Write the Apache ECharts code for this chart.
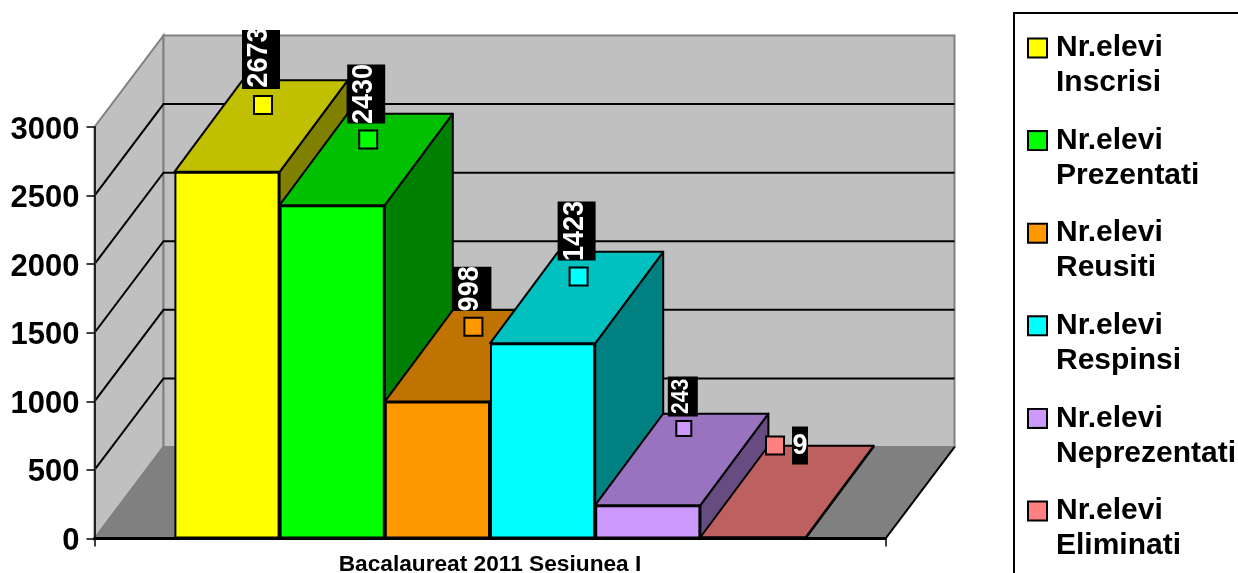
<!DOCTYPE html>
<html><head><meta charset="utf-8">
<style>html,body{margin:0;padding:0;background:#fff;overflow:hidden}#c{width:1238px;height:573px}</style>
<script src="https://cdn.jsdelivr.net/npm/echarts@6/dist/echarts.min.js"></script>
</head><body><div id="c"></div>
<script>
const categories = ['Bacalaureat 2011 Sesiunea I'];
const seriesNames = ['Nr.elevi Inscrisi','Nr.elevi Prezentati','Nr.elevi Reusiti','Nr.elevi Respinsi','Nr.elevi Neprezentati','Nr.elevi Eliminati'];
const inscrisi = [2673];
const prezentati = [2430];
const reusiti = [998];
const respinsi = [1423];
const neprezentati = [243];
const eliminati = [9];
const seriesValues = [inscrisi, prezentati, reusiti, respinsi, neprezentati, eliminati];
const yTicks = [0,500,1000,1500,2000,2500,3000];

const frontColors = ['#FFFF00','#00FF00','#FF9900','#00FFFF','#CC99FF','#FF8080'];
const topColors   = ['#C0C000','#00C000','#C07300','#00C0C0','#9973BF','#BF6060'];
const sideColors  = ['#808000','#008000','#804C00','#008080','#664C80','#804040'];
const FONT = '"Liberation Sans", Arial, sans-serif';
const WALL_DX = 69, WALL_DY = 91.5, BAR_DX = 68, BAR_DY = 91.5, BAR_W = 105.2;
// data label layout, relative to the centre of each bar's top face
const labelLayout = [
  {mx:2, my:-21, ms:18, bx:-19, by:-96, bw:38, bh:59, tx:-2, ty:-2, fs:27, rot:true},
  {mx:2, my:-20, ms:18, bx:-19, by:-95, bw:38, bh:59, tx:-2, ty:0, fs:27, rot:true},
  {mx:2, my:-29, ms:18, bx:-19, by:-89, bw:39, bh:44, tx:-2, ty:0, fs:27, rot:true},
  {mx:2, my:-21, ms:18, bx:-19, by:-96, bw:38, bh:59, tx:-2, ty:0, fs:27, rot:true},
  {mx:2, my:-31, ms:15, bx:-14, by:-83, bw:30, bh:40, tx:-1, ty:0, fs:21, rot:true},
  {mx:-12, my:-46, ms:18, bx:5, by:-65, bw:16, bh:38, tx:0, ty:0, fs:27, rot:false}
];

function barLeft(api, i){
  const c = api.coord([api.value(0), 0])[0];
  return c + (i - seriesNames.length / 2) * BAR_W;
}
function poly(points, fill, z2){
  return {type:'polygon', z2:z2||0, shape:{points}, style:{fill, stroke:'#000', lineWidth:2, lineJoin:'round'}};
}
const lineStyle = (c)=>({stroke:c, lineWidth:2});

const series = [];
// walls, floor and grid
series.push({
  type:'custom', name:'walls', silent:true, z:1, clip:false, animation:false,
  data:[[categories[0], 0]], encode:{x:0,y:1},
  renderItem(params, api){
    const cs = params.coordSys, L = cs.x, R = cs.x + cs.width;
    const yOf = v => api.coord([categories[0], v])[1];
    const y0 = yOf(yTicks[0]), yT = yOf(yTicks[yTicks.length-1]);
    const kids = [];
    const G='#808080';
    kids.push({type:'polygon', shape:{points:[[L,y0],[L+WALL_DX,y0-WALL_DY],[L+WALL_DX,yT-WALL_DY],[L,yT]]}, style:{fill:'#C0C0C0',stroke:G,lineWidth:2}});
    kids.push({type:'polygon', shape:{points:[[L+WALL_DX,y0-WALL_DY],[R+WALL_DX,y0-WALL_DY],[R+WALL_DX,yT-WALL_DY],[L+WALL_DX,yT-WALL_DY]]}, style:{fill:'#C0C0C0',stroke:G,lineWidth:2}});
    kids.push({type:'polygon', shape:{points:[[L,y0],[L+WALL_DX,y0-WALL_DY],[R+WALL_DX,y0-WALL_DY],[R,y0]]}, style:{fill:'#808080',stroke:G,lineWidth:2}});
    yTicks.slice(1,-1).forEach(v=>{
      const y = yOf(v);
      kids.push({type:'polyline', shape:{points:[[L,y],[L+WALL_DX,y-WALL_DY],[R+WALL_DX,y-WALL_DY]]}, style:Object.assign({fill:null},lineStyle('#000'))});
    });
    kids.push({type:'line', shape:{x1:R,y1:y0,x2:R+WALL_DX,y2:y0-WALL_DY}, style:lineStyle('#000')});
    return {type:'group', children:kids};
  }
});
seriesNames.forEach((name,i)=>{
  // top and side faces
  series.push({
    type:'custom', name, silent:true, z:10+2*i, clip:false, animation:false,
    data:[[categories[0], seriesValues[i][0]]], encode:{x:0,y:1},
    renderItem(params, api){
      const x0 = barLeft(api,i), x1 = x0 + BAR_W;
      const y = api.coord([api.value(0), api.value(1)])[1];
      const yb = api.coord([api.value(0), 0])[1];
      return {type:'group', children:[
        poly([[x1,y],[x1+BAR_DX,y-BAR_DY],[x1+BAR_DX,yb-BAR_DY],[x1,yb]], sideColors[i]),
        poly([[x0,y],[x0+BAR_DX,y-BAR_DY],[x1+BAR_DX,y-BAR_DY],[x1,y]], topColors[i])
      ]};
    }
  });
  // front face
  series.push({
    type:'bar', name, z:11+2*i, animation:false, barWidth:BAR_W, barGap:0, silent:true,
    itemStyle:{color:frontColors[i], borderColor:'#000', borderWidth:2},
    data:seriesValues[i]
  });
});
// data labels with legend keys
seriesNames.forEach((name,i)=>{
  const a = labelLayout[i];
  series.push({
    type:'custom', name, silent:true, z:100, clip:false, animation:false,
    data:[[categories[0], seriesValues[i][0]]], encode:{x:0,y:1},
    renderItem(params, api){
      const px = barLeft(api,i) + BAR_W/2 + BAR_DX/2;
      const py = api.coord([api.value(0), api.value(1)])[1] - BAR_DY/2;
      const bx = px + a.bx, by = py + a.by;
      return {type:'group', children:[
        {type:'rect', shape:{x:px+a.mx-a.ms/2, y:py+a.my-a.ms/2, width:a.ms, height:a.ms},
         style:{fill:frontColors[i], stroke:'#000', lineWidth:2}},
        {type:'rect', shape:{x:bx, y:by, width:a.bw, height:a.bh}, style:{fill:'#000'}},
        {type:'group', clipPath:{type:'rect', shape:{x:bx, y:by, width:a.bw, height:a.bh}}, children:[
          {type:'text', x:bx+a.bw/2+a.tx, y:by+a.bh/2+a.ty, rotation:a.rot?Math.PI/2:0, scaleY:1.1,
           style:{text:String(api.value(1)), fill:'#fff', font:'bold '+a.fs+'px '+FONT, align:'center', verticalAlign:'middle'}}
        ]}
      ]};
    }
  });
});

const rich = {
  t:{fontFamily:FONT, fontWeight:'bold', fontSize:30, color:'#000', lineHeight:35},
  g:{width:10, height:1, lineHeight:35},
  s:{width:27, height:1, lineHeight:35}
};
frontColors.forEach((c,i)=>{ rich['k'+i] = {width:17, height:17, backgroundColor:c, borderColor:'#000', borderWidth:2, lineHeight:35}; });

const option = {
  backgroundColor:'#fff',
  animation:false,
  tooltip:{show:false},
  grid:{left:94.5, width:791, top:127, height:411.5, containLabel:false, outerBoundsMode:'none'},
  xAxis:{type:'category', data:categories, boundaryGap:true, z:50,
    axisLine:{onZero:false, lineStyle:{color:'#000', width:3}},
    axisTick:{show:true, length:8, alignWithLabel:false, lineStyle:{color:'#000', width:1.5}},
    axisLabel:{color:'#000', fontFamily:FONT, fontWeight:'bold', fontSize:22.7, margin:15}},
  yAxis:{type:'value', min:0, max:3000, interval:500, z:50,
    splitLine:{show:false},
    axisLine:{show:true, lineStyle:{color:'#222', width:2}},
    axisTick:{show:true, length:8, lineStyle:{color:'#000', width:1.5}},
    axisLabel:{margin:15,
      formatter:(v)=>'{v|'+v+'}',
      rich:{v:{color:'#000', fontFamily:FONT, fontWeight:'bold', fontSize:31, padding:[6,0,0,0]}}}},
  legend:{
    orient:'vertical', left:1014, top:13, height:800, width:400,
    padding:[20,30,60,10], itemGap:27.6, itemWidth:0, itemHeight:0,
    icon:'rect', selectedMode:false,
    borderColor:'#000', borderWidth:2, backgroundColor:'#fff',
    data:seriesNames,
    formatter(name){
      const i = seriesNames.indexOf(name);
      const parts = name.split(' ');
      return '{k'+i+'|}{g|}{t|'+parts[0]+'}\n{s|}{t|'+parts[1]+'}';
    },
    textStyle:{rich}
  },
  series
};
const chart = echarts.init(document.getElementById('c'), null, {renderer:'canvas'});
chart.setOption(option);
</script></body></html>
